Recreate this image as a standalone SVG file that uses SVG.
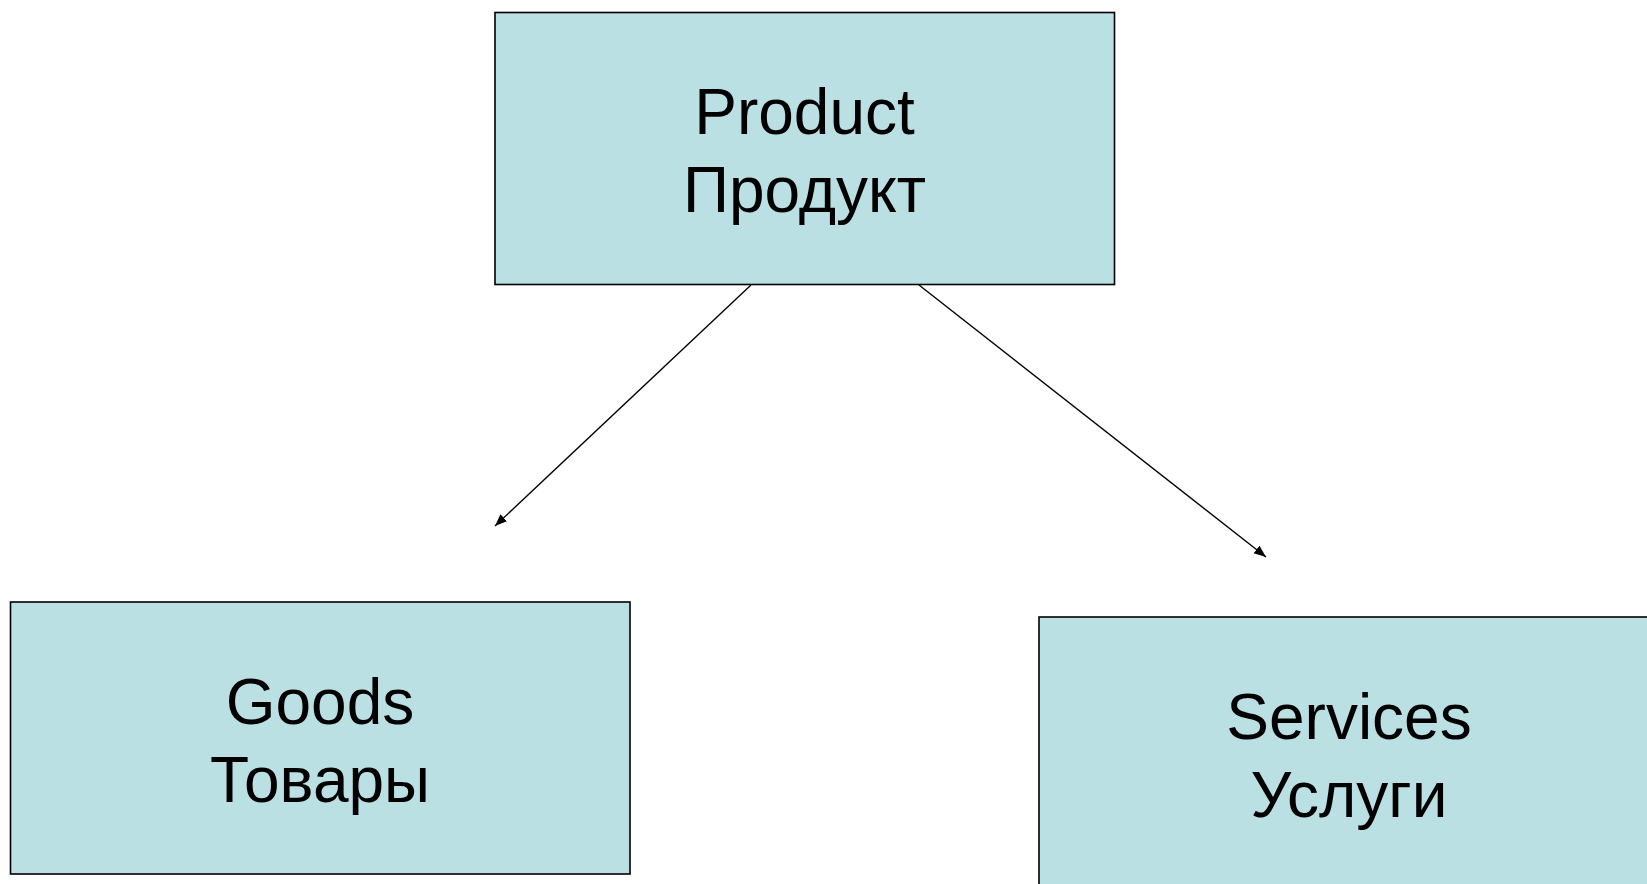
<svg xmlns="http://www.w3.org/2000/svg" width="1647" height="884" viewBox="0 0 1647 884">
  <style>
    .box { fill: #BBE0E3; stroke: #000; stroke-width: 1.6; }
    .label { font-family: "Liberation Sans", Arial, sans-serif; font-size: 64px; fill: #000; text-anchor: middle; }
    .link { stroke: #000; stroke-width: 1.4; fill: none; marker-end: url(#arrow); }
  </style>
  <defs>
    <marker id="arrow" viewBox="0 0 10 10" refX="10" refY="5" markerWidth="12" markerHeight="12" markerUnits="userSpaceOnUse" orient="auto">
      <path d="M0,1 L10,5 L0,9 Z" fill="#000"/>
    </marker>
  </defs>
  <rect width="1647" height="884" fill="#fff"/>

  <g id="connectors">
    <line class="link" x1="751" y1="285" x2="495" y2="526"/>
    <line class="link" x1="919" y1="285" x2="1266" y2="557"/>
  </g>

  <g id="product">
    <rect class="box" x="495" y="12.5" width="619.5" height="272"/>
    <text class="label" x="804.5" y="134">Product</text>
    <text class="label" x="804.5" y="212">Продукт</text>
  </g>

  <g id="goods">
    <rect class="box" x="10.5" y="602" width="619.5" height="272"/>
    <text class="label" x="320" y="724">Goods</text>
    <text class="label" x="320" y="802">Товары</text>
  </g>

  <g id="services">
    <rect class="box" x="1039" y="617" width="619.5" height="272"/>
    <text class="label" x="1349" y="739">Services</text>
    <text class="label" x="1349" y="817">Услуги</text>
  </g>
</svg>
